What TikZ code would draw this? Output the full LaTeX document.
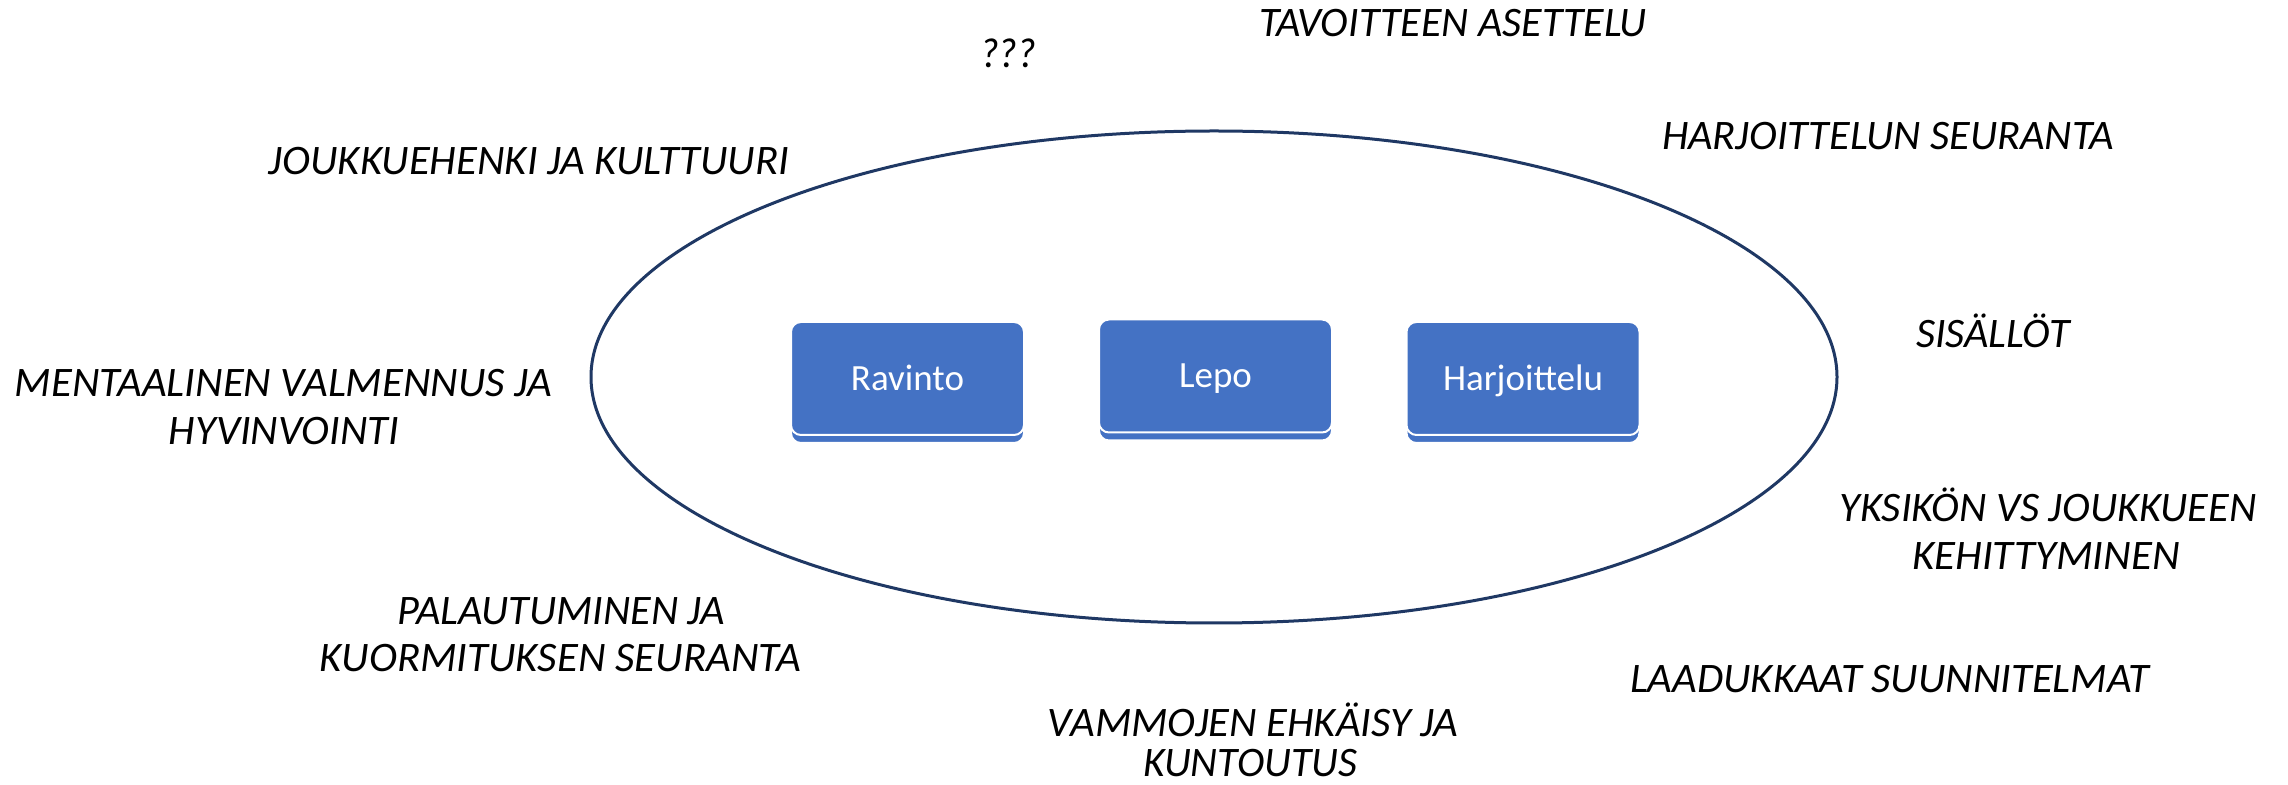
\documentclass[tikz,border=0pt]{standalone}
\usepackage{fontspec}
\setmainfont{Carlito}
\usepackage{graphicx}
\usetikzlibrary{shapes.geometric,shadows}
\definecolor{boxblue}{HTML}{4472C4}
\definecolor{ringcol}{HTML}{1F3864}
\newcommand{\fitw}[2]{\resizebox{#1pt}{\height}{#2}}
\begin{document}
\begin{tikzpicture}[x=0.5pt,y=-0.5pt,
  lbl/.style={font=\fontsize{21}{23}\selectfont\itshape, inner sep=0pt, anchor=base, text=black},
  blk/.style={draw=white, line width=1pt, fill=boxblue, rounded corners=5pt,
     minimum width=116.5pt, minimum height=56.5pt, inner sep=0pt,
     text height=12pt, text depth=0pt, text=white,
     font=\fontsize{18.5}{20}\selectfont,
     copy shadow={shadow xshift=0pt, shadow yshift=-4pt}},
  ringst/.style={draw=ringcol, line width=1.5pt, ellipse, minimum width=623pt, minimum height=246pt, inner sep=0pt}]
\useasboundingbox (0,0) rectangle (2288,785);

\node[ringst] (ring) at (1214,377) {};

\node[blk] (rav) at (907.5,378.5) {Ravinto};
\node[blk] (lep) at (1215.5,376) {Lepo};
\node[blk] (har) at (1523,378.5) {Harjoittelu};

\node[lbl] (q)    at (1008,68)   {\fitw{28}{???}};
\node[lbl] (tav)  at (1453,37)   {\fitw{194}{TAVOITTEEN ASETTELU}};
\node[lbl] (jou)  at (529,175)   {\fitw{260}{JOUKKUEHENKI JA KULTTUURI}};
\node[lbl] (hseu) at (1888,150)  {\fitw{226}{HARJOITTELUN SEURANTA}};
\node[lbl] (sis)  at (1993,348)  {\fitw{77}{SISÄLLÖT}};
\node[lbl] (men1) at (283.5,397) {\fitw{268.5}{MENTAALINEN VALMENNUS JA}};
\node[lbl] (men2) at (284,445)   {\fitw{115}{HYVINVOINTI}};
\node[lbl] (yks1) at (2048,522)  {\fitw{208.5}{YKSIKÖN VS JOUKKUEEN}};
\node[lbl] (yks2) at (2046,570)  {\fitw{134}{KEHITTYMINEN}};
\node[lbl] (pal1) at (561,625)   {\fitw{164}{PALAUTUMINEN JA}};
\node[lbl] (pal2) at (560.5,672) {\fitw{240.5}{KUORMITUKSEN SEURANTA}};
\node[lbl] (laa)  at (1889.5,693) {\fitw{259.5}{LAADUKKAAT SUUNNITELMAT}};
\node[lbl] (vam1) at (1253,737)  {\fitw{205}{VAMMOJEN EHKÄISY JA}};
\node[lbl] (vam2) at (1250,777)  {\fitw{107}{KUNTOUTUS}};
\end{tikzpicture}
\end{document}
